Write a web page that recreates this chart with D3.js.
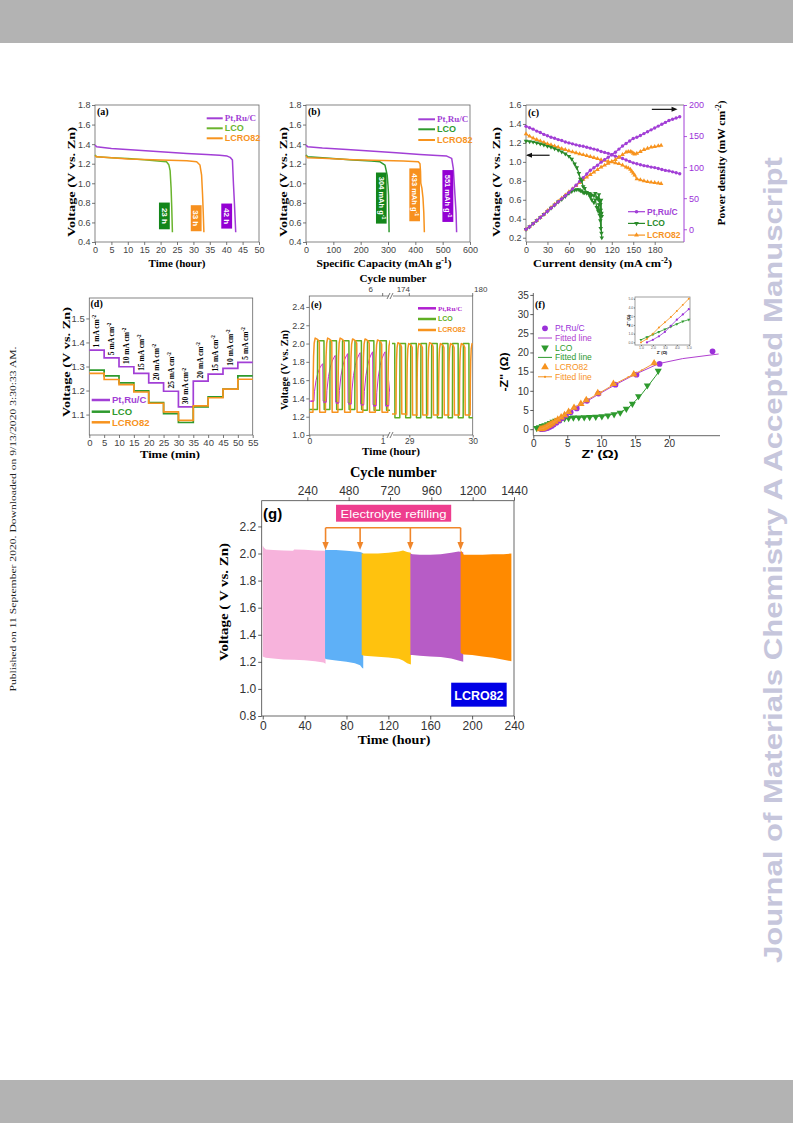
<!DOCTYPE html>
<html>
<head>
<meta charset="utf-8">
<title>Zn-air battery figure</title>
<script src="https://cdnjs.cloudflare.com/ajax/libs/d3/7.8.5/d3.min.js"></script>
<style>
  body { margin: 0; background: #fff; }
  svg { display: block; }
</style>
</head>
<body>
<svg id="page" width="793" height="1123"></svg>
<script>
const SANS = "'Liberation Sans', Arial, Helvetica, sans-serif";
const SERIF = "'Liberation Serif', 'Times New Roman', serif";
const PURPLE = '#a23fd6', GREEN = '#3f9f2c', ORANGE = '#f7931e';

// ---------------- data ----------------
const seriesNames = ['Pt,Ru/C', 'LCO', 'LCRO82'];

// (a) discharge vs time
const aXTicks = [0, 5, 10, 15, 20, 25, 30, 35, 40, 45, 50];
const abVoltTicks = [0.4, 0.6, 0.8, 1.0, 1.2, 1.4, 1.6, 1.8];
const aPtT = [0, 0.5, 5, 12, 20, 28, 34, 38, 40.3, 41.2, 41.9, 42.2, 42.5, 42.9];
const aPtV = [1.39, 1.373, 1.355, 1.34, 1.322, 1.305, 1.295, 1.287, 1.278, 1.265, 1.237, 1.0, 0.8, 0.5];
const aLcoT = [0, 0.5, 5, 10, 15, 20, 21.8, 22.5, 22.9, 23.2, 23.4, 23.6];
const aLcoV = [1.288, 1.27, 1.262, 1.254, 1.24, 1.226, 1.22, 1.19, 1.13, 0.95, 0.75, 0.5];
const aLcroT = [0, 0.5, 5, 10, 20, 28, 31, 32, 32.5, 32.8, 33.0, 33.2];
const aLcroV = [1.281, 1.27, 1.26, 1.247, 1.237, 1.23, 1.22, 1.186, 1.083, 0.878, 0.7, 0.5];
const aRunLabels = ['23 h', '33 h', '42 h'];

// (b) discharge vs specific capacity
const bXTicks = [0, 100, 200, 300, 400, 500, 600];
const bPtC = [0, 6, 60, 150, 234, 330, 417, 480, 515, 533, 539, 545, 549, 551];
const bPtV = [1.39, 1.373, 1.36, 1.345, 1.33, 1.312, 1.295, 1.285, 1.278, 1.254, 1.15, 0.878, 0.7, 0.5];
const bLcoC = [0, 6, 60, 173, 240, 271, 289, 297, 300, 302, 303, 304];
const bLcoV = [1.288, 1.27, 1.26, 1.237, 1.228, 1.22, 1.186, 1.083, 0.98, 0.878, 0.7, 0.5];
const bLcroC = [0, 6, 60, 173, 356, 411, 417, 419, 420, 424, 428, 431, 433];
const bLcroV = [1.281, 1.26, 1.255, 1.24, 1.227, 1.22, 1.2, 1.12, 1.0, 0.95, 0.85, 0.7, 0.5];
const bCapLabels = ['304', '433', '551'];

// (c) polarization and power density
const cXTicks = [0, 30, 60, 90, 120, 150, 180];
const cVTicks = [0.2, 0.4, 0.6, 0.8, 1.0, 1.2, 1.4, 1.6];
const cPTicks = [0, 50, 100, 150, 200];
const cPtI = [0, 5, 10, 15, 20, 25, 30, 35, 40, 45, 50, 55, 60, 65, 70, 75, 80, 85, 90, 95, 100, 105, 110, 115, 120, 125, 130, 135, 140, 145, 150, 155, 160, 165, 170, 175, 180, 185, 190, 195, 200, 205, 210, 215];
const cPtV = [1.375, 1.36, 1.345, 1.325, 1.31, 1.29, 1.275, 1.26, 1.25, 1.235, 1.225, 1.21, 1.2, 1.19, 1.18, 1.17, 1.165, 1.155, 1.145, 1.135, 1.125, 1.11, 1.1, 1.09, 1.075, 1.06, 1.05, 1.035, 1.02, 1.005, 0.99, 0.98, 0.97, 0.96, 0.955, 0.945, 0.94, 0.93, 0.92, 0.91, 0.905, 0.895, 0.885, 0.875];
const cPtP = [0, 4, 9, 14, 19, 24, 29, 34, 39, 44, 49, 54, 59, 65, 71, 77, 83, 89, 95, 99, 103, 108, 112, 116, 120, 124, 129, 134, 138, 142, 146, 148, 151, 154, 157, 160, 163, 166, 169, 172, 175, 177, 179, 181];
const cLcoI = [0, 5, 10, 15, 20, 25, 30, 35, 40, 45, 50, 55, 60, 64, 68, 71, 74, 76, 78, 80, 82, 85, 88, 90, 92, 95, 97, 99, 101, 102, 103, 104, 104.5, 105, 105.5, 106];
const cLcoV = [1.22, 1.215, 1.21, 1.2, 1.19, 1.18, 1.165, 1.155, 1.14, 1.125, 1.105, 1.085, 1.06, 1.03, 0.98, 0.94, 0.88, 0.82, 0.8, 0.74, 0.72, 0.68, 0.66, 0.63, 0.6, 0.57, 0.6, 0.52, 0.48, 0.55, 0.44, 0.38, 0.3, 0.45, 0.25, 0.2];
const cLcoP = [0, 4, 9, 14, 19, 24, 29, 34, 39, 44, 48, 53, 58, 61, 63, 64, 64, 62, 62, 59, 59, 58, 58, 57, 55, 54, 58, 51, 48, 56, 45, 40, 31, 47, 26, 21];
const cLcroI = [0, 5, 10, 15, 20, 25, 30, 35, 40, 45, 50, 55, 60, 65, 70, 75, 80, 85, 90, 95, 100, 105, 110, 115, 120, 125, 130, 135, 140, 143, 146, 148, 150, 152, 155, 160, 165, 170, 175, 180, 185, 189];
const cLcroV = [1.295, 1.27, 1.25, 1.235, 1.22, 1.205, 1.19, 1.18, 1.165, 1.155, 1.14, 1.13, 1.115, 1.105, 1.095, 1.085, 1.075, 1.065, 1.055, 1.045, 1.035, 1.02, 1.015, 1.005, 1.0, 0.99, 0.98, 0.965, 0.945, 0.935, 0.92, 0.9, 0.88, 0.86, 0.82, 0.81, 0.8, 0.79, 0.785, 0.78, 0.775, 0.77];
const cLcroP = [0, 4, 9, 14, 19, 24, 30, 35, 40, 45, 50, 55, 60, 65, 70, 75, 80, 84, 88, 92, 96, 100, 103, 106, 109, 112, 116, 120, 124, 125, 125, 124, 122, 121, 122, 125, 128, 130, 132, 133, 134, 135];

// (d) rate performance
const dXTicks = [0, 5, 10, 15, 20, 25, 30, 35, 40, 45, 50, 55];
const dVTicks = [1.1, 1.2, 1.3, 1.4, 1.5];
const dStepTimes = [0, 5, 10, 15, 20, 25, 30, 35, 40, 45, 50, 55];
const dPt = [1.368, 1.336, 1.299, 1.271, 1.232, 1.197, 1.132, 1.239, 1.268, 1.292, 1.317];
const dLco = [1.285, 1.261, 1.232, 1.199, 1.15, 1.104, 1.067, 1.132, 1.174, 1.206, 1.261];
const dLcro = [1.271, 1.246, 1.225, 1.194, 1.147, 1.111, 1.076, 1.136, 1.17, 1.206, 1.247];
const dCurrents = ['1', '5', '10', '15', '20', '25', '30', '20', '15', '10', '5'];

// (e) charge/discharge cycling (10 min cycles), per-cycle plateaus
const eVTicks = [1.0, 1.2, 1.4, 1.6, 1.8, 2.0, 2.2, 2.4];
const eBottomTicksL = [0, 1];
const eBottomTicksR = [29, 30];
const eTopCycles = [6, 174, 180];
const eTopTimes = [1, 29, 30];
const ePeriod = 1 / 6;
const eStartsL = [0.05, 0.22, 0.39, 0.56, 0.73, 0.9, 1.07];
const ePtHighL = [1.78, 1.87, 1.89, 1.9, 1.91, 1.91, 1.91];
const ePtLowL = [1.37, 1.36, 1.35, 1.34, 1.33, 1.32, 1.32];
const eLcoHighL = [2.03, 2.03, 2.03, 2.03, 2.03, 2.03, 1.9];
const eLcoLowL = [1.28, 1.28, 1.28, 1.28, 1.27, 1.27, 1.27];
const eLcroHighL = [2.06, 2.06, 2.06, 2.05, 2.05, 2.04, 2.03];
const eLcroLowL = [1.25, 1.25, 1.25, 1.25, 1.25, 1.25, 1.25];
const eStartsR = [28.62, 28.79, 28.96, 29.12, 29.29, 29.46, 29.62, 29.79, 29.96];
const eLcoHighR = [2.0, 2.0, 2.0, 2.0, 2.0, 2.0, 2.0, 2.0, 2.0];
const eLcoLowR = [1.19, 1.19, 1.19, 1.19, 1.19, 1.19, 1.19, 1.19, 1.19];
const eLcroHighR = [2.0, 2.01, 2.0, 2.0, 2.01, 2.0, 2.0, 2.0, 2.0];
const eLcroLowR = [1.23, 1.23, 1.22, 1.22, 1.22, 1.22, 1.22, 1.22, 1.22];

// (f) Nyquist plots
const fXTicks = [0, 5, 10, 15, 20];
const fYTicks = [0, 5, 10, 15, 20, 25, 30, 35];
const fPtRe = [1.2, 1.5, 1.8, 2.1, 2.4, 2.7, 3.0, 3.4, 3.8, 4.3, 4.8, 5.5, 6.4, 7.9, 9.6, 12.1, 15.2, 18.6, 26.4];
const fPtIm = [0, 0.05, 0.15, 0.3, 0.55, 0.85, 1.2, 1.7, 2.2, 2.9, 3.6, 4.4, 5.4, 7.4, 9.3, 11.6, 14.2, 17.0, 20.3];
const fPtFitRe = [1.0, 1.5, 2, 2.5, 3, 3.5, 4, 4.5, 5, 6, 8, 10, 12, 15, 18.5, 22, 27.3];
const fPtFitIm = [0, 0.1, 0.35, 0.75, 1.3, 1.9, 2.6, 3.3, 3.9, 5.2, 7.4, 9.5, 11.5, 14.3, 17.1, 18.4, 19.6];
const fLcoRe = [0.5, 0.9, 1.3, 1.7, 2.1, 2.5, 2.9, 3.3, 3.7, 4.1, 4.6, 5.2, 5.9, 6.7, 7.5, 8.3, 9.2, 10.1, 11.0, 11.9, 12.8, 13.7, 14.6, 15.5, 16.8, 18.4];
const fLcoIm = [0.3, 0.5, 0.8, 1.0, 1.3, 1.6, 1.9, 2.2, 2.4, 2.6, 2.8, 2.9, 3.0, 3.05, 3.1, 3.15, 3.2, 3.35, 3.55, 3.85, 4.3, 5.3, 6.6, 8.6, 11.4, 15.2];
const fLcoFitRe = [0.5, 1, 2, 3, 4, 5, 6, 8, 10, 11, 12, 13, 14, 15, 16, 17, 18, 18.6];
const fLcoFitIm = [0.3, 0.65, 1.3, 2.0, 2.6, 2.9, 3.05, 3.2, 3.4, 3.6, 4.0, 4.6, 5.6, 7.3, 9.2, 11.5, 13.8, 15.3];
const fLcroRe = [1.0, 1.3, 1.6, 1.9, 2.2, 2.5, 2.8, 3.2, 3.6, 4.1, 4.6, 5.2, 6.0, 7.0, 7.8, 9.5, 11.8, 14.8, 17.8];
const fLcroIm = [0, 0.1, 0.3, 0.55, 0.85, 1.2, 1.55, 2.0, 2.5, 3.1, 3.7, 4.5, 5.6, 6.6, 7.6, 9.4, 11.8, 14.3, 17.2];
const fLcroFitRe = [0.9, 1.5, 2, 3, 4, 5, 6, 8, 10, 12, 14, 16, 18];
const fLcroFitIm = [0, 0.25, 0.7, 1.8, 3.0, 4.2, 5.5, 7.7, 9.7, 11.8, 13.6, 15.4, 17.4];
// inset (high-frequency zoom)
const fInXTicks = [1, 2, 3, 4, 5];
const fInYTicks = [0, 1, 2, 3, 4, 5];
const fInRe = [1, 1.5, 2, 2.5, 3, 3.5, 4, 4.5, 5];
const fInPt = [null, 0, 0.3, 0.7, 1.2, 1.9, 2.6, 3.2, 3.8];
const fInLco = [0.3, 0.6, 0.9, 1.2, 1.5, 1.8, 2.1, 2.4, 2.6];
const fInLcro = [0, 0.4, 1.0, 1.7, 2.3, 2.9, 3.6, 4.3, 5.0];

// (g) long-term cycling of LCRO82, envelope of each refill period
const gXTicks = [0, 40, 80, 120, 160, 200, 240];
const gYTicks = [0.8, 1.0, 1.2, 1.4, 1.6, 1.8, 2.0, 2.2];
const gTopTicks = [240, 480, 720, 960, 1200, 1440];
const gRefillTimes = [60, 93, 141, 189];
const gSegT = [
  [0, 1, 3, 10, 20, 29, 30, 40, 50, 58, 60],
  [59.5, 61, 70, 80, 88, 93, 95, 96],
  [94.5, 97, 110, 120, 130, 134, 138, 141.5],
  [141, 143, 150, 160, 170, 180, 187, 191.5],
  [189, 190.5, 192, 200, 210, 220, 230, 237.5]
];
const gSegTop = [
  [2.06, 2.045, 2.03, 2.025, 2.022, 2.02, 2.03, 2.027, 2.022, 2.02, 2.02],
  [2.03, 2.025, 2.025, 2.02, 2.015, 2.012, 2.005, 2.0],
  [2.0, 2.0, 2.0, 2.005, 2.015, 2.022, 2.012, 2.005],
  [2.0, 1.995, 1.99, 1.99, 1.995, 2.005, 2.015, 2.01],
  [2.025, 2.01, 1.99, 1.99, 1.99, 1.995, 1.995, 2.0]
];
const gSegBot = [
  [1.24, 1.235, 1.23, 1.225, 1.218, 1.215, 1.215, 1.212, 1.205, 1.195, 1.185],
  [1.225, 1.22, 1.21, 1.2, 1.19, 1.175, 1.155, 1.15],
  [1.25, 1.245, 1.238, 1.232, 1.222, 1.21, 1.19, 1.18],
  [1.25, 1.25, 1.245, 1.24, 1.235, 1.225, 1.21, 1.2],
  [1.265, 1.26, 1.255, 1.25, 1.24, 1.23, 1.215, 1.205]
];
const gSegColors = ['#f7b3dc', '#5eb0f7', '#ffc20e', '#b75cc6', '#ff8a00'];

// ---------------- helpers ----------------
const svg = d3.select('#page');
const defs = svg.append('defs');

function txt(x, y, parts, o) {
  o = o || {};
  const size = o.size || 10;
  const t = svg.append('text').attr('x', x).attr('y', y)
    .attr('font-family', o.family || SERIF).attr('font-size', size)
    .attr('font-weight', o.weight || 'bold').attr('fill', o.fill || '#000')
    .attr('text-anchor', o.anchor || 'middle');
  if (o.rotate) t.attr('transform', 'rotate(' + o.rotate + ',' + x + ',' + y + ')');
  if (o.len) t.attr('textLength', o.len).attr('lengthAdjust', 'spacingAndGlyphs');
  if (typeof parts === 'string') parts = [parts];
  let up = false;
  parts.forEach(p => {
    const sup = Array.isArray(p);
    const ts = t.append('tspan').text(sup ? p[0] : p);
    if (sup) {
      ts.attr('font-size', size * 0.68);
      if (!up) { ts.attr('dy', -size * 0.38); up = true; }
    } else if (up) { ts.attr('dy', size * 0.38); up = false; }
  });
  return t;
}

function axis(gen, tx, ty, size, color) {
  const g = svg.append('g').attr('transform', 'translate(' + tx + ',' + ty + ')').call(gen);
  g.select('.domain').remove();
  g.selectAll('line').attr('stroke', color || '#555').attr('stroke-width', 0.8);
  g.selectAll('text').attr('font-family', SANS).attr('font-size', size).attr('fill', color || '#444');
  return g;
}

function frame(x0, x1, y0, y1, stroke) {
  svg.append('rect').attr('x', x0).attr('y', y0).attr('width', x1 - x0).attr('height', y1 - y0)
    .attr('fill', 'none').attr('stroke', stroke || '#666').attr('stroke-width', 0.8);
}

function zip(xs, ys) { return xs.map((v, i) => [v, ys[i]]).filter(d => d[1] !== null); }

function curve(pts, sx, sy, color, w, clip) {
  const p = svg.append('path').datum(pts)
    .attr('d', d3.line().x(d => sx(d[0])).y(d => sy(d[1])))
    .attr('fill', 'none').attr('stroke', color).attr('stroke-width', w || 1.4)
    .attr('stroke-linejoin', 'round');
  if (clip) p.attr('clip-path', 'url(#' + clip + ')');
  return p;
}

function markers(pts, sx, sy, type, size, color, flip) {
  const sym = d3.symbol().type(type).size(size);
  svg.append('g').selectAll('path').data(pts).join('path')
    .attr('d', sym)
    .attr('transform', d => 'translate(' + sx(d[0]) + ',' + sy(d[1]) + ')' + (flip ? ' rotate(180)' : ''))
    .attr('fill', color);
}

function legendLine(x0, x1, y, color, label, o) {
  o = o || {};
  svg.append('line').attr('x1', x0).attr('x2', x1).attr('y1', y).attr('y2', y)
    .attr('stroke', color).attr('stroke-width', o.w || 2);
  txt(x1 + 2, y + (o.size || 8.5) * 0.35, label,
    { size: o.size || 8.5, anchor: 'start', fill: color, family: o.family || SANS, weight: o.weight || 'bold' });
}

function runBox(sx, sy, xr, yr, color, parts, size) {
  svg.append('rect').attr('x', sx(xr[0])).attr('y', sy(yr[1]))
    .attr('width', sx(xr[1]) - sx(xr[0])).attr('height', sy(yr[0]) - sy(yr[1])).attr('fill', color);
  const cx = (sx(xr[0]) + sx(xr[1])) / 2 - size * 0.35, cy = (sy(yr[0]) + sy(yr[1])) / 2;
  txt(cx, cy, parts, { size: size, fill: '#fff', family: SANS, rotate: 90 });
}

// ---------------- page furniture ----------------
svg.append('rect').attr('x', 0).attr('y', 0).attr('width', 793).attr('height', 43).attr('fill', '#b3b3b3');
svg.append('rect').attr('x', 0).attr('y', 1080).attr('width', 793).attr('height', 43).attr('fill', '#b3b3b3');
txt(16, 519, 'Published on 11 September 2020. Downloaded on 9/13/2020 3:30:33 AM.',
  { size: 9, weight: 'normal', rotate: -90, len: 345, fill: '#222' });
txt(782, 560, 'Journal of Materials Chemistry A Accepted Manuscript',
  { size: 26, family: SANS, rotate: -90, len: 806, fill: '#c6c6dc' });

// ---------------- (a) ----------------
const aX = d3.scaleLinear().domain([0, 50]).range([95, 259]);
const aY = d3.scaleLinear().domain([0.4, 1.8]).range([242, 105]);
frame(95, 259, 105, 242);
axis(d3.axisBottom(aX).tickValues(aXTicks).tickSize(3).tickPadding(1.5), 0, 242, 9);
axis(d3.axisLeft(aY).tickValues(abVoltTicks).tickFormat(d3.format('.1f')).tickSize(3).tickPadding(1.5), 95, 0, 9);
curve(zip(aPtT, aPtV), aX, aY, PURPLE, 1.5);
curve(zip(aLcoT, aLcoV), aX, aY, '#6ab42d', 1.5);
curve(zip(aLcroT, aLcroV), aX, aY, ORANGE, 1.5);
runBox(aX, aY, [19.5, 22.8], [0.53, 0.803], '#13861a', aRunLabels[0], 8);
runBox(aX, aY, [29.2, 32.5], [0.51, 0.776], '#f7901e', aRunLabels[1], 8);
runBox(aX, aY, [38.5, 41.8], [0.537, 0.793], '#9400d3', aRunLabels[2], 8);
legendLine(206.7, 222.7, 118.3, PURPLE, seriesNames[0], { family: SERIF, size: 9 });
legendLine(206.7, 222.7, 128.3, '#6ab42d', seriesNames[1], { size: 9 });
legendLine(206.7, 222.7, 138.3, ORANGE, seriesNames[2], { size: 9 });
txt(97, 115, '(a)', { size: 10, anchor: 'start' });
txt(177, 267, 'Time (hour)', { size: 11, len: 57 });
txt(75, 182, 'Voltage (V vs. Zn)', { size: 11, rotate: -90, len: 110 });

// ---------------- (b) ----------------
const bX = d3.scaleLinear().domain([0, 600]).range([306, 470]);
const bY = d3.scaleLinear().domain([0.4, 1.8]).range([242, 105]);
frame(306, 470, 105, 242);
axis(d3.axisBottom(bX).tickValues(bXTicks).tickSize(3).tickPadding(1.5), 0, 242, 9);
axis(d3.axisLeft(bY).tickValues(abVoltTicks).tickFormat(d3.format('.1f')).tickSize(3).tickPadding(1.5), 306, 0, 9);
curve(zip(bPtC, bPtV), bX, bY, PURPLE, 1.5);
curve(zip(bLcoC, bLcoV), bX, bY, '#2f9a2f', 1.5);
curve(zip(bLcroC, bLcroV), bX, bY, ORANGE, 1.5);
runBox(bX, bY, [256, 295], [0.588, 1.11], '#13861a', [bCapLabels[0] + ' mAh g', ['-1']], 7.5);
runBox(bX, bY, [378, 417], [0.612, 1.152], '#f7901e', [bCapLabels[1] + ' mAh g', ['-1']], 7.5);
runBox(bX, bY, [499, 539], [0.605, 1.135], '#9400d3', [bCapLabels[2] + ' mAh g', ['-1']], 7.5);
legendLine(418.3, 435, 119.3, PURPLE, seriesNames[0], { family: SERIF, size: 9 });
legendLine(418.3, 435, 129.3, '#2f9a2f', seriesNames[1], { size: 9 });
legendLine(418.3, 435, 140, ORANGE, seriesNames[2], { size: 9 });
txt(308, 115, '(b)', { size: 10, anchor: 'start' });
txt(384, 267, ['Specific Capacity (mAh g', ['-1'], ')'], { size: 11, len: 135 });
txt(287, 182, 'Voltage (V vs. Zn)', { size: 11, rotate: -90, len: 110 });

// ---------------- (c) ----------------
const cX = d3.scaleLinear().domain([0, 221]).range([526, 684]);
const cY = d3.scaleLinear().domain([0.155, 1.6]).range([242, 105]);
const cP = d3.scaleLinear().domain([-20.5, 200]).range([242, 105]);
svg.append('line').attr('x1', 526).attr('x2', 684).attr('y1', 105).attr('y2', 105).attr('stroke', '#666').attr('stroke-width', 0.8);
svg.append('line').attr('x1', 526).attr('x2', 684).attr('y1', 242).attr('y2', 242).attr('stroke', '#666').attr('stroke-width', 0.8);
svg.append('line').attr('x1', 526).attr('x2', 526).attr('y1', 105).attr('y2', 242).attr('stroke', '#666').attr('stroke-width', 0.8);
svg.append('line').attr('x1', 684).attr('x2', 684).attr('y1', 105).attr('y2', 242).attr('stroke', '#a23fd6').attr('stroke-width', 1);
axis(d3.axisBottom(cX).tickValues(cXTicks).tickSize(3).tickPadding(1.5), 0, 242, 9);
axis(d3.axisLeft(cY).tickValues(cVTicks).tickFormat(d3.format('.1f')).tickSize(3).tickPadding(1.5), 526, 0, 9);
axis(d3.axisRight(cP).tickValues(cPTicks).tickSize(3).tickPadding(2), 684, 0, 9, '#9b30d9');
curve(zip(cPtI, cPtV), cX, cY, PURPLE, 1.2);
markers(zip(cPtI, cPtV), cX, cY, d3.symbolCircle, 9, PURPLE);
curve(zip(cLcroI, cLcroV), cX, cY, ORANGE, 1.2);
markers(zip(cLcroI, cLcroV), cX, cY, d3.symbolTriangle, 9, ORANGE);
curve(zip(cLcroI, cLcroP), cX, cP, ORANGE, 1.2);
markers(zip(cLcroI, cLcroP), cX, cP, d3.symbolTriangle, 9, ORANGE);
curve(zip(cLcoI, cLcoP), cX, cP, '#2a8a2a', 1.2);
markers(zip(cLcoI, cLcoP), cX, cP, d3.symbolTriangle, 9, '#2a8a2a', true);
curve(zip(cPtI, cPtP), cX, cP, PURPLE, 1.2);
markers(zip(cPtI, cPtP), cX, cP, d3.symbolCircle, 9, PURPLE);
curve(zip(cLcoI, cLcoV), cX, cY, '#2a8a2a', 1.2);
markers(zip(cLcoI, cLcoV), cX, cY, d3.symbolTriangle, 9, '#2a8a2a', true);
// direction arrows
const arrowHead = (x, y, dir) => svg.append('path')
  .attr('d', 'M' + x + ',' + y + 'l' + (-6 * dir) + ',-2.5l0,5z').attr('fill', '#111');
svg.append('line').attr('x1', cX(33)).attr('x2', cX(2)).attr('y1', cY(1.07)).attr('y2', cY(1.07)).attr('stroke', '#111').attr('stroke-width', 1.2);
arrowHead(cX(0), cY(1.07), -1);
svg.append('line').attr('x1', cX(176)).attr('x2', cX(208)).attr('y1', cP(193)).attr('y2', cP(193)).attr('stroke', '#111').attr('stroke-width', 1.2);
arrowHead(cX(212), cP(193), 1);
[[PURPLE, d3.symbolCircle, false], ['#2a8a2a', d3.symbolTriangle, true], [ORANGE, d3.symbolTriangle, false]]
  .forEach(([col, sym, flip], i) => {
    const yy = 211.7 + i * 11.7;
    legendLine(628, 645, yy, col, seriesNames[i], { w: 1.2 });
    svg.append('path').attr('d', d3.symbol().type(sym).size(10))
      .attr('transform', 'translate(636.5,' + yy + ')' + (flip ? ' rotate(180)' : '')).attr('fill', col);
  });
txt(528, 116, '(c)', { size: 10, anchor: 'start' });
txt(602.5, 267, ['Current density (mA cm', ['-2'], ')'], { size: 11, len: 139 });
txt(500, 182, 'Voltage (V vs. Zn)', { size: 11, rotate: -90, len: 110 });
txt(725, 163, ['Power density (mW cm', ['-2'], ')'], { size: 11, rotate: -90, len: 125 });

// ---------------- (d) ----------------
const dX = d3.scaleLinear().domain([0, 55]).range([89.3, 252.7]);
const dY = d3.scaleLinear().domain([1.015, 1.585]).range([435, 298]);
frame(89.3, 252.7, 298, 435);
axis(d3.axisBottom(dX).tickValues(dXTicks).tickSize(3).tickPadding(1.5), 0, 435, 9.5);
axis(d3.axisLeft(dY).tickValues(dVTicks).tickFormat(d3.format('.1f')).tickSize(3).tickPadding(1.5), 89.3, 0, 9.5);
const stepLine = d3.line().curve(d3.curveStepAfter).x(d => dX(d[0])).y(d => dY(d[1]));
[[dPt, PURPLE], [dLco, '#2e9a2e'], [dLcro, ORANGE]].forEach(([lv, col]) => {
  const pts = lv.map((v, i) => [dStepTimes[i], v]);
  pts.push([dStepTimes[dStepTimes.length - 1], lv[lv.length - 1]]);
  svg.append('path').datum(pts).attr('d', stepLine).attr('fill', 'none')
    .attr('stroke', col).attr('stroke-width', 1.7);
});
dCurrents.forEach((c, i) => {
  const x = dX(dStepTimes[i] + 2.5) + 2.6;
  txt(x, dY(dPt[i]) - 2.7, [c + ' mA cm', ['-2']], { size: 7.5, rotate: -90, anchor: 'start' });
});
legendLine(91.7, 110, 400, PURPLE, seriesNames[0], { size: 9.5, w: 2.5 });
legendLine(91.7, 110, 411.7, '#2e9a2e', seriesNames[1], { size: 9.5, w: 2.5 });
legendLine(91.7, 110, 422.3, ORANGE, seriesNames[2], { size: 9.5, w: 2.5 });
txt(90.5, 307, '(d)', { size: 10, anchor: 'start' });
txt(170, 458, 'Time (min)', { size: 11, len: 60 });
txt(70, 362, 'Voltage (V vs. Zn)', { size: 11, rotate: -90, len: 110 });

// ---------------- (e) ----------------
const eX1 = d3.scaleLinear().domain([0, 1.1]).range([309.3, 390]);
const eX2 = d3.scaleLinear().domain([28.727, 30]).range([392, 472.7]);
const eY = d3.scaleLinear().domain([1.0, 2.52]).range([435, 296]);
defs.append('clipPath').attr('id', 'eClip1').append('rect').attr('x', 309.3).attr('y', 290).attr('width', 80.7).attr('height', 150);
defs.append('clipPath').attr('id', 'eClip2').append('rect').attr('x', 392).attr('y', 290).attr('width', 80.7).attr('height', 150);
frame(309.3, 472.7, 296, 435);
axis(d3.axisLeft(eY).tickValues(eVTicks).tickFormat(d3.format('.1f')).tickSize(3).tickPadding(1.5), 309.3, 0, 9);
axis(d3.axisBottom(eX1).tickValues(eBottomTicksL).tickFormat(d3.format('d')).tickSize(2.5).tickPadding(0.5), 0, 435, 8.5);
axis(d3.axisBottom(eX2).tickValues(eBottomTicksR).tickFormat(d3.format('d')).tickSize(2.5).tickPadding(0.5), 0, 435, 8.5);
const eTopDx = [-12, -6, 8];
eTopCycles.forEach((c, i) => {
  const t = eTopTimes[i];
  const x = t <= 1.1 ? eX1(t) : eX2(t);
  svg.append('line').attr('x1', x).attr('x2', x).attr('y1', 296).attr('y2', 293).attr('stroke', '#555').attr('stroke-width', 0.8);
  txt(x + eTopDx[i], 292, String(c), { size: 8, family: SANS, weight: 'normal', fill: '#444' });
});
// axis break marks
[296, 435].forEach(yb => {
  svg.append('rect').attr('x', 389).attr('y', yb - 2).attr('width', 4).attr('height', 4).attr('fill', '#fff');
  [388.5, 391.5].forEach(xb => svg.append('line').attr('x1', xb - 1.5).attr('x2', xb + 1.5)
    .attr('y1', yb + 3).attr('y2', yb - 3).attr('stroke', '#555').attr('stroke-width', 0.8));
});
const profLcro = [[0, 0], [0.02, 0.45], [0.05, 0.75], [0.1, 0.93], [0.18, 1], [0.3, 0.99], [0.45, 0.97], [0.52, 0.94], [0.55, 0], [1, 0]];
const profLco = [[0, 0], [0.36, 0], [0.38, 1], [0.9, 1], [0.92, 0], [1, 0]];
const profPt = [[0, 0], [0.08, 0], [0.12, 0.25], [0.25, 0.55], [0.4, 0.75], [0.55, 0.88], [0.7, 0.96], [0.8, 1], [0.83, 0], [1, 0]];
function cycles(starts, highs, lows, prof) {
  const pts = [[0, lows[0]]];
  starts.forEach((t0, i) => prof.forEach(([ph, k]) => pts.push([t0 + ph * ePeriod, lows[i] + k * (highs[i] - lows[i])])));
  return pts;
}
curve(cycles(eStartsL, ePtHighL, ePtLowL, profPt), eX1, eY, '#c32fd0', 1, 'eClip1');
curve(cycles(eStartsL, eLcoHighL, eLcoLowL, profLco), eX1, eY, '#5fae23', 1.5, 'eClip1');
curve(cycles(eStartsL, eLcroHighL, eLcroLowL, profLcro), eX1, eY, ORANGE, 1.5, 'eClip1');
curve(cycles(eStartsR, eLcoHighR, eLcoLowR, profLco).slice(1), eX2, eY, '#5fae23', 1.5, 'eClip2');
curve(cycles(eStartsR, eLcroHighR, eLcroLowR, profLcro).slice(1), eX2, eY, ORANGE, 1.5, 'eClip2');
// discharge plateaus of Pt,Ru/C stay visible as short dashes
svg.append('g').selectAll('line').data(eStartsL).join('line')
  .attr('x1', t => eX1(Math.max(0, t - 0.03))).attr('x2', t => eX1(t + 0.01))
  .attr('y1', (t, i) => eY(ePtLowL[i])).attr('y2', (t, i) => eY(ePtLowL[i]))
  .attr('stroke', '#c32fd0').attr('stroke-width', 1.3).attr('clip-path', 'url(#eClip1)');
legendLine(418, 436, 308.3, '#b01fd0', seriesNames[0], { size: 7, w: 2.5, family: SERIF });
legendLine(418, 436, 319, '#5fae23', seriesNames[1], { size: 7, w: 2.5 });
legendLine(418, 436, 330, ORANGE, seriesNames[2], { size: 7, w: 2.5 });
txt(311, 308, '(e)', { size: 9.5, anchor: 'start' });
txt(391, 455, 'Time (hour)', { size: 10, len: 58 });
txt(393, 282, 'Cycle number', { size: 10.5, len: 67 });
txt(288, 370, 'Voltage (V vs. Zn)', { size: 10, rotate: -90, len: 80 });

// ---------------- (f) ----------------
const fX = d3.scaleLinear().domain([0, 27.5]).range([533.3, 720]);
const fY = d3.scaleLinear().domain([-1.7, 35.5]).range([435.7, 293]);
svg.append('line').attr('x1', 533.3).attr('x2', 720).attr('y1', 435.7).attr('y2', 435.7).attr('stroke', '#555').attr('stroke-width', 0.9);
svg.append('line').attr('x1', 533.3).attr('x2', 533.3).attr('y1', 293).attr('y2', 435.7).attr('stroke', '#555').attr('stroke-width', 0.9);
axis(d3.axisBottom(fX).tickValues(fXTicks).tickSize(3).tickPadding(1.5), 0, 435.7, 10, '#333');
axis(d3.axisLeft(fY).tickValues(fYTicks).tickSize(3).tickPadding(1.5), 533.3, 0, 10, '#333');
curve(zip(fLcoFitRe, fLcoFitIm), fX, fY, '#2e9a2e', 1);
markers(zip(fLcoRe, fLcoIm), fX, fY, d3.symbolTriangle, 22, '#2e9a2e', true);
curve(zip(fPtFitRe, fPtFitIm), fX, fY, '#b040d0', 1);
markers(zip(fPtRe, fPtIm), fX, fY, d3.symbolCircle, 26, '#9b30d9');
markers(zip(fLcroRe, fLcroIm), fX, fY, d3.symbolTriangle, 24, ORANGE);
curve(zip(fLcroFitRe, fLcroFitIm), fX, fY, '#f39a3c', 1);
markers(zip(fLcroFitRe, fLcroFitIm), fX, fY, d3.symbolCircle, 3, '#f39a3c');
// legend
const fLeg = [
  ['sym', d3.symbolCircle, false, '#9b30d9', seriesNames[0]],
  ['line', null, false, '#b040d0', 'Fitted line'],
  ['sym', d3.symbolTriangle, true, '#2e9a2e', seriesNames[1]],
  ['line', null, false, '#2e9a2e', 'Fitted line'],
  ['sym', d3.symbolTriangle, false, ORANGE, seriesNames[2]],
  ['line', d3.symbolCircle, false, ORANGE, 'Fitted line']
];
fLeg.forEach(([kind, sym, flip, col, lab], i) => {
  const yy = 328.3 + i * 9.7;
  if (kind === 'line') svg.append('line').attr('x1', 538).attr('x2', 552).attr('y1', yy).attr('y2', yy).attr('stroke', col).attr('stroke-width', 1);
  if (sym) svg.append('path').attr('d', d3.symbol().type(sym).size(kind === 'line' ? 4 : 26))
    .attr('transform', 'translate(545,' + yy + ')' + (flip ? ' rotate(180)' : '')).attr('fill', col);
  txt(555, yy + 3, lab, { size: 8.5, anchor: 'start', family: SANS, weight: 'normal', fill: col });
});
// inset
const iX = d3.scaleLinear().domain([0.5, 5.1]).range([635, 690]);
const iY = d3.scaleLinear().domain([-0.3, 5.2]).range([345, 297]);
frame(635, 690, 297, 345, '#888');
axis(d3.axisBottom(iX).tickValues(fInXTicks).tickSize(1.2).tickPadding(0.5), 0, 345, 3.5, '#555');
axis(d3.axisLeft(iY).tickValues(fInYTicks).tickSize(1.2).tickPadding(0.5), 635, 0, 3.5, '#555');
const inLco = zip(fInRe, fInLco), inPt = zip(fInRe, fInPt), inLcro = zip(fInRe, fInLcro);
curve(inLco, iX, iY, '#2e9a2e', 0.8); markers(inLco, iX, iY, d3.symbolTriangle, 4, '#2e9a2e', true);
curve(inPt, iX, iY, '#9b30d9', 0.8); markers(inPt, iX, iY, d3.symbolCircle, 4, '#9b30d9');
curve(inLcro, iX, iY, ORANGE, 0.8); markers(inLcro, iX, iY, d3.symbolCircle, 3, ORANGE);
txt(662, 353.5, "Z' (\u03a9)", { size: 4, family: SANS });
txt(629.5, 321, "-Z'' (\u03a9)", { size: 4, family: SANS, rotate: -90 });
txt(535, 308, '(f)', { size: 10, anchor: 'start' });
txt(600, 458, "Z' (\u03a9)", { size: 10.5, family: SANS, len: 37 });
txt(508, 372, "-Z'' (\u03a9)", { size: 10.5, family: SANS, rotate: -90, len: 39 });

// ---------------- (g) ----------------
const gX = d3.scaleLinear().domain([-1, 240]).range([261.7, 514]);
const gY = d3.scaleLinear().domain([0.8, 2.39]).range([716, 500.7]);
const gC = d3.scaleLinear().domain([-25, 1440]).range([261.7, 514]);
const band = d3.area().x(d => gX(d[0])).y0(d => gY(d[2])).y1(d => gY(d[1]));
gSegT.forEach((ts, s) => {
  const pts = ts.map((t, i) => [t, gSegTop[s][i], gSegBot[s][i]]);
  svg.append('path').datum(pts).attr('d', band).attr('fill', gSegColors[s]);
});
frame(261.7, 514, 500.7, 716, '#444');
axis(d3.axisBottom(gX).tickValues(gXTicks).tickSize(3.5).tickPadding(2), 0, 716, 12, '#333');
axis(d3.axisLeft(gY).tickValues(gYTicks).tickFormat(d3.format('.1f')).tickSize(3.5).tickPadding(2), 261.7, 0, 12, '#333');
axis(d3.axisTop(gC).tickValues(gTopTicks).tickFormat(d3.format('d')).tickSize(3.5).tickPadding(2), 0, 500.7, 12, '#333');
// refilling annotation
const refillCol = '#f0862a';
svg.append('line').attr('x1', gX(gRefillTimes[0])).attr('x2', gX(gRefillTimes[3]))
  .attr('y1', gY(2.19)).attr('y2', gY(2.19)).attr('stroke', refillCol).attr('stroke-width', 1.6);
gRefillTimes.forEach(t => {
  const x = gX(t);
  svg.append('line').attr('x1', x).attr('x2', x).attr('y1', gY(2.19)).attr('y2', gY(2.07))
    .attr('stroke', refillCol).attr('stroke-width', 1.6);
  svg.append('path').attr('d', 'M' + (x - 3.2) + ',' + gY(2.085) + 'L' + (x + 3.2) + ',' + gY(2.085) + 'L' + x + ',' + gY(2.025) + 'Z')
    .attr('fill', refillCol);
});
svg.append('rect').attr('x', gX(70)).attr('y', gY(2.36)).attr('width', gX(180) - gX(70))
  .attr('height', gY(2.235) - gY(2.36)).attr('fill', '#ee3d8e');
txt((gX(70) + gX(180)) / 2, gY(2.263), 'Electrolyte refilling', { size: 10.5, family: SANS, weight: 'normal', fill: '#fff', len: 106 });
svg.append('rect').attr('x', gX(180)).attr('y', gY(1.046)).attr('width', gX(233) - gX(180))
  .attr('height', gY(0.869) - gY(1.046)).attr('fill', '#0000e6');
txt((gX(180) + gX(233)) / 2, gY(0.915), 'LCRO82', { size: 12.5, family: SANS, fill: '#fff' });
txt(263, 519, '(g)', { size: 15, family: SANS, anchor: 'start' });
txt(394, 744, 'Time (hour)', { size: 13, len: 72.7 });
txt(393.3, 477, 'Cycle number', { size: 14, len: 86.7 });
txt(228, 602, 'Voltage ( V vs. Zn)', { size: 13, rotate: -90, len: 118 });
</script>
</body>
</html>
